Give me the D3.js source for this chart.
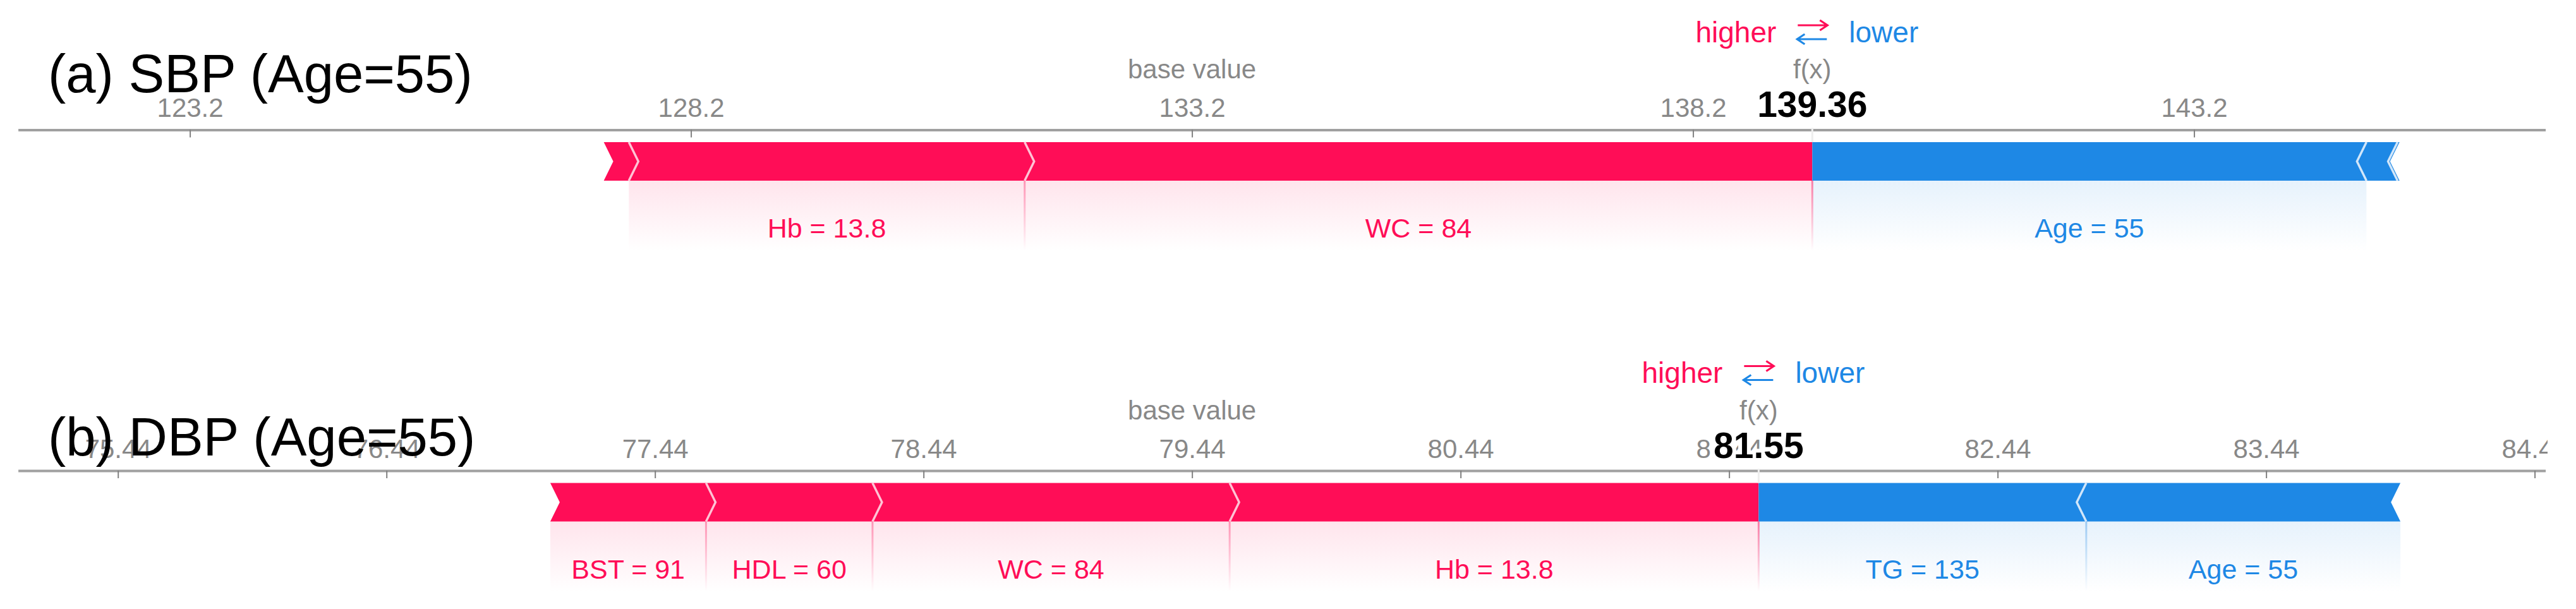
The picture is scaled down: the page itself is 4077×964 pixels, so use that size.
<!DOCTYPE html>
<html><head><meta charset="utf-8">
<script src="https://cdn.jsdelivr.net/npm/d3@7"></script>
<style>html,body{margin:0;padding:0;background:#fff;} svg{display:block;}</style>
</head><body>
<svg id="chart" width="4077" height="964"></svg>
<script>
// ---------------- data ----------------
const panelTitles = ["(a) SBP (Age=55)", "(b) DBP (Age=55)"];
const baseValues = [133.17, 79.44];
const outValues = [139.36, 81.55];
const outLabels = ["139.36", "81.55"];

const sbpPositiveLabels = ["", "Hb = 13.8", "WC = 84"];
const sbpPositiveEffects = [0.25, 3.95, 7.86];
const sbpNegativeLabels = ["Age = 55", "", ""];
const sbpNegativeEffects = [5.53, 0.31, 0.02];

const dbpPositiveLabels = ["BST = 91", "HDL = 60", "WC = 84", "Hb = 13.8"];
const dbpPositiveEffects = [0.58, 0.62, 1.33, 1.97];
const dbpNegativeLabels = ["TG = 135", "Age = 55"];
const dbpNegativeEffects = [1.22, 1.17];

const sbpTicks = [123.17, 128.17, 133.17, 138.17, 143.17];
const sbpTickLabels = ["123.2", "128.2", "133.2", "138.2", "143.2"];
const dbpTicks = [75.44, 76.44, 77.44, 78.44, 79.44, 80.44, 81.44, 82.44, 83.44, 84.44];
const dbpTickLabels = ["75.44", "76.44", "77.44", "78.44", "79.44", "80.44", "81.44", "82.44", "83.44", "84.44"];

const sbpDomain = [121.455, 146.676];
const dbpDomain = [75.068, 84.480];

// ---------------- styling / layout ----------------
const RED = "#ff0d57", BLUE = "#1e88e5";
const RED_LIGHT = "#ffc3d5", BLUE_LIGHT = "#d1e6fa";
const FONT = "'Liberation Sans', Arial, Helvetica, sans-serif";
const X_RANGE = [28.6, 4028.6];
const panelOffsets = [0, 539.5];
const titleBaselines = [146, 721];
const L = {higherY: 66.7, arrowRedY: 40, arrowBlueY: 62, labelY: 124, tickLabelY: 185,
           axisY: 205.5, barTop: 225, barBottom: 286, textY: 376, backBottom: 397};
const CHEV = 15;

const panels = [
  {title: panelTitles[0], base: baseValues[0], out: outValues[0], outLabel: outLabels[0],
   posLabels: sbpPositiveLabels, pos: sbpPositiveEffects, negLabels: sbpNegativeLabels, neg: sbpNegativeEffects,
   ticks: sbpTicks, tickLabels: sbpTickLabels, domain: sbpDomain},
  {title: panelTitles[1], base: baseValues[1], out: outValues[1], outLabel: outLabels[1],
   posLabels: dbpPositiveLabels, pos: dbpPositiveEffects, negLabels: dbpNegativeLabels, neg: dbpNegativeEffects,
   ticks: dbpTicks, tickLabels: dbpTickLabels, domain: dbpDomain}
];

const svg = d3.select("#chart");
svg.append("rect").attr("width", 4077).attr("height", 964).attr("fill", "#fff");
const defs = svg.append("defs");
function vgrad(id, color, o0) {
  const g = defs.append("linearGradient").attr("id", id).attr("x1", 0).attr("y1", 0).attr("x2", 0).attr("y2", 1);
  g.append("stop").attr("offset", "0%").attr("stop-color", color).attr("stop-opacity", o0);
  g.append("stop").attr("offset", "100%").attr("stop-color", color).attr("stop-opacity", 0);
}
vgrad("backRed", RED, 0.11);
vgrad("backBlue", BLUE, 0.11);
vgrad("sepRed", RED, 0.5);
vgrad("sepBlue", BLUE, 0.5);
defs.append("clipPath").attr("id", "panelClip").append("rect")
  .attr("x", 0).attr("y", -100).attr("width", 4032).attr("height", 1200);

panels.forEach((p, pi) => {
  const g = svg.append("g").attr("transform", `translate(0,${panelOffsets[pi]})`);
  const x = d3.scaleLinear().domain(p.domain).range(X_RANGE);
  const top = L.barTop, bot = L.barBottom, mid = (top + bot) / 2;

  // build segments
  const segs = [];
  const posTotal = d3.sum(p.pos);
  let cur = p.out - posTotal;
  p.pos.forEach((v, i) => {
    segs.push({side: "pos", v0: cur, v1: cur + v, label: p.posLabels[i], last: i === p.pos.length - 1, first: i === 0});
    cur += v;
  });
  cur = p.out;
  p.neg.forEach((v, i) => {
    segs.push({side: "neg", v0: cur, v1: cur + v, label: p.negLabels[i], first: i === 0, last: i === p.neg.length - 1});
    cur += v;
  });
  segs.forEach(s => { s.x0 = x(s.v0); s.x1 = x(s.v1); });

  const content = g.append("g").attr("clip-path", "url(#panelClip)");

  // label backings
  segs.filter(s => s.label).forEach(s => {
    content.append("rect").attr("x", s.x0).attr("y", bot).attr("width", s.x1 - s.x0)
      .attr("height", L.backBottom - bot)
      .attr("fill", s.side === "pos" ? "url(#backRed)" : "url(#backBlue)");
  });
  // separator lines between labeled segments
  for (let i = 0; i < segs.length - 1; i++) {
    const a = segs[i], b = segs[i + 1];
    if (a.label && b.label) {
      const isF = a.side !== b.side;
      const side = isF ? "pos" : a.side;
      content.append("rect").attr("x", a.x1 - 1.5).attr("y", bot).attr("width", 3)
        .attr("height", L.backBottom - bot)
        .attr("fill", side === "pos" ? "url(#sepRed)" : "url(#sepBlue)")
        .attr("opacity", isF ? 1 : 0.75);
    }
  }

  // bars
  segs.forEach(s => {
    let pts;
    if (s.side === "pos") {
      pts = [[s.x0, top], [s.x1, top]];
      if (!s.last) pts.push([s.x1 + CHEV, mid]);
      pts.push([s.x1, bot], [s.x0, bot], [s.x0 + CHEV, mid]);
    } else {
      pts = [[s.x0, top], [s.x1, top], [s.x1 - CHEV, mid], [s.x1, bot], [s.x0, bot]];
      if (!s.first) pts.push([s.x0 - CHEV, mid]);
    }
    content.append("path").attr("d", d3.line()(pts) + "Z")
      .attr("fill", s.side === "pos" ? RED : BLUE);
  });
  // chevron boundary lines
  segs.forEach(s => {
    if (s.side === "pos" && !s.last) {
      content.append("path").attr("d", d3.line()([[s.x1, top], [s.x1 + CHEV, mid], [s.x1, bot]]))
        .attr("fill", "none").attr("stroke", RED_LIGHT).attr("stroke-width", 3.5);
    }
    if (s.side === "neg" && !s.first) {
      content.append("path").attr("d", d3.line()([[s.x0, top], [s.x0 - CHEV, mid], [s.x0, bot]]))
        .attr("fill", "none").attr("stroke", BLUE_LIGHT).attr("stroke-width", 3.5);
    }
  });

  // axis
  const axis = d3.axisBottom(x).tickValues(p.ticks)
    .tickFormat((d, i) => p.tickLabels[i]).tickSizeInner(12).tickSizeOuter(0);
  const ax = content.append("g").attr("transform", `translate(0,${L.axisY})`).call(axis);
  ax.select(".domain").attr("stroke", "#a0a0a0").attr("stroke-width", 4);
  ax.selectAll(".tick line").attr("stroke", "#808080").attr("stroke-width", 2);
  ax.selectAll(".tick text").attr("y", L.tickLabelY - L.axisY).attr("dy", null)
    .attr("fill", "#888").style("font-family", FONT).style("font-size", "42px");

  const fx = x(p.out);
  // light line at f(x) through axis gap
  content.append("line").attr("x1", fx).attr("x2", fx).attr("y1", L.axisY - 3).attr("y2", top)
    .attr("stroke", "#eeeeee").attr("stroke-width", 3);

  // base value / f(x) labels
  content.append("text").attr("x", x(p.base)).attr("y", L.labelY).attr("text-anchor", "middle")
    .attr("fill", "#888").style("font-family", FONT).style("font-size", "42px").text("base value");
  content.append("text").attr("x", fx).attr("y", L.labelY).attr("text-anchor", "middle")
    .attr("fill", "#888").style("font-family", FONT).style("font-size", "42px").text("f(x)");
  content.append("text").attr("x", fx).attr("y", L.tickLabelY).attr("text-anchor", "middle")
    .attr("fill", "#000").attr("stroke", "#fff").attr("stroke-width", 12).attr("stroke-linejoin", "round")
    .style("paint-order", "stroke").style("font-family", FONT).style("font-size", "57px")
    .style("font-weight", "bold").text(p.outLabel);

  // higher / lower
  content.append("text").attr("x", fx - 57).attr("y", L.higherY).attr("text-anchor", "end")
    .attr("fill", RED).style("font-family", FONT).style("font-size", "46px").text("higher");
  content.append("text").attr("x", fx + 58).attr("y", L.higherY).attr("text-anchor", "start")
    .attr("fill", BLUE).style("font-family", FONT).style("font-size", "46px").text("lower");
  content.append("path")
    .attr("d", `M${fx - 23},${L.arrowRedY}H${fx + 23}M${fx + 12},${L.arrowRedY - 8}L${fx + 24},${L.arrowRedY}L${fx + 12},${L.arrowRedY + 8}`)
    .attr("fill", "none").attr("stroke", RED).attr("stroke-width", 3.2);
  content.append("path")
    .attr("d", `M${fx + 23},${L.arrowBlueY}H${fx - 23}M${fx - 12},${L.arrowBlueY - 8}L${fx - 24},${L.arrowBlueY}L${fx - 12},${L.arrowBlueY + 8}`)
    .attr("fill", "none").attr("stroke", BLUE).attr("stroke-width", 3.2);

  // segment labels
  segs.filter(s => s.label).forEach(s => {
    content.append("text").attr("x", (s.x0 + s.x1) / 2).attr("y", L.textY).attr("text-anchor", "middle")
      .attr("fill", s.side === "pos" ? RED : BLUE).style("font-family", FONT).style("font-size", "43px")
      .text(s.label);
  });

  // title
  svg.append("text").attr("x", 76).attr("y", titleBaselines[pi]).attr("fill", "#000")
    .style("font-family", FONT).style("font-size", "85px").text(p.title);
});
</script>
</body></html>
